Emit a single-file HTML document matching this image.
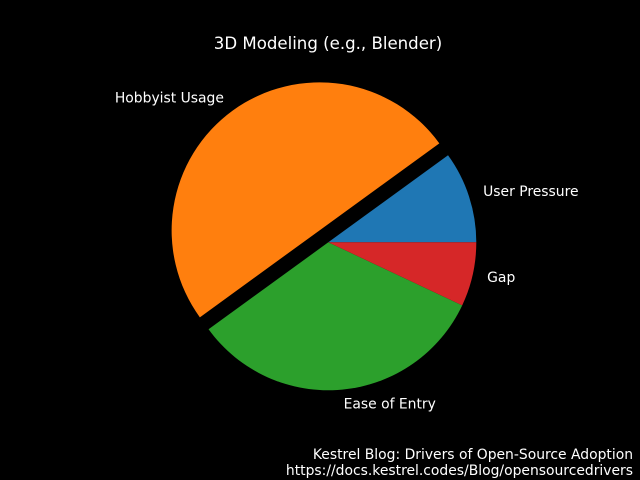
<!DOCTYPE html>
<html><head><meta charset="utf-8"><style>
body{margin:0;background:#000;}
svg{display:block;font-family:"DejaVu Sans","Liberation Sans",sans-serif;}
</style></head><body>
<svg id="c" width="640" height="480">
<rect width="640" height="480" fill="#000"/>
<text x="328" y="49" fill="#fff" font-size="16.6" text-anchor="middle">3D Modeling (e.g., Blender)</text>
<text x="633" y="459" fill="#fff" font-size="13.9" text-anchor="end">Kestrel Blog: Drivers of Open-Source Adoption</text>
<text x="633" y="475" fill="#fff" font-size="13.9" text-anchor="end">https://docs.kestrel.codes/Blog/opensourcedrivers</text>
</svg>
<script>
const labels=["User Pressure","Hobbyist Usage","Ease of Entry","Gap"];
const values=[10,50,33,7];
const explode=[0,0.1,0,0];
const colors=["#1f77b4","#ff7f0e","#2ca02c","#d62728"];
const svg=document.getElementById('c');
const cx=328.3,cy=242.3,r=148;
const total=values.reduce((a,b)=>a+b,0);
let a0=0;
const ns='http://www.w3.org/2000/svg';
values.forEach((v,i)=>{
  const a1=a0+v/total*2*Math.PI, am=(a0+a1)/2;
  const ox=cx+explode[i]*r*Math.cos(am), oy=cy-explode[i]*r*Math.sin(am);
  const x0=ox+r*Math.cos(a0),y0=oy-r*Math.sin(a0),x1=ox+r*Math.cos(a1),y1=oy-r*Math.sin(a1);
  const p=document.createElementNS(ns,'path');
  p.setAttribute('d',`M${ox},${oy}L${x0},${y0}A${r},${r} 0 ${a1-a0>Math.PI?1:0} 0 ${x1},${y1}Z`);
  p.setAttribute('fill',colors[i]);
  
  
  svg.appendChild(p);
  const lx=cx+(1.1+explode[i])*r*Math.cos(am), ly=cy-(1.1+explode[i])*r*Math.sin(am);
  const t=document.createElementNS(ns,'text');
  t.setAttribute('x',lx);t.setAttribute('y',ly+4);
  t.setAttribute('fill','#fff');t.setAttribute('font-size','13.9');
  t.setAttribute('text-anchor',Math.cos(am)>=0?'start':'end');
  t.textContent=labels[i];
  
  
  svg.appendChild(t);
  a0=a1;
});
</script>
</body></html>
